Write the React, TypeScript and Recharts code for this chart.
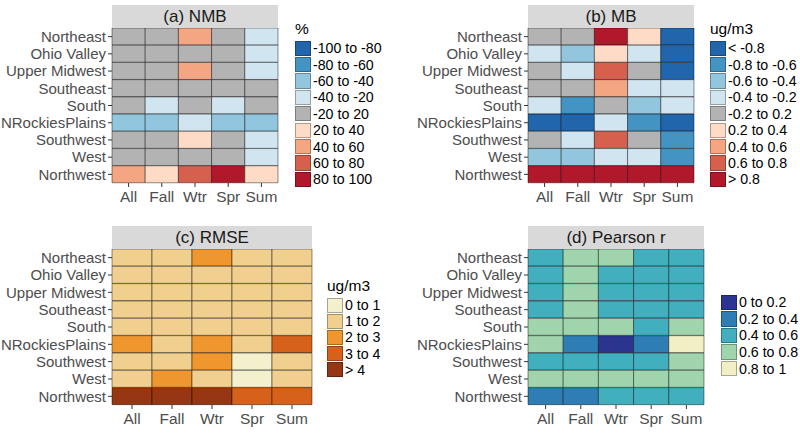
import { BarChart, Bar, Cell, XAxis, YAxis } from "recharts";

const regions = [
  "Northeast",
  "Ohio Valley",
  "Upper Midwest",
  "Southeast",
  "South",
  "NRockiesPlains",
  "Southwest",
  "West",
  "Northwest",
];

const seasons = ["All", "Fall", "Wtr", "Spr", "Sum"];

// bin index per region (rows) and season (cols)
const nmbBins = [
  [4, 4, 6, 4, 3],
  [4, 4, 4, 4, 3],
  [4, 4, 6, 4, 3],
  [4, 4, 4, 4, 4],
  [4, 3, 4, 3, 4],
  [2, 2, 3, 2, 2],
  [4, 4, 5, 4, 3],
  [4, 4, 4, 4, 3],
  [6, 5, 7, 8, 5],
];
const nmbLabels = [
  "-100 to -80",
  "-80 to -60",
  "-60 to -40",
  "-40 to -20",
  "-20 to 20",
  "20 to 40",
  "40 to 60",
  "60 to 80",
  "80 to 100",
];

const mbBins = [
  [4, 4, 8, 5, 0],
  [3, 2, 5, 3, 0],
  [4, 3, 7, 4, 0],
  [4, 4, 6, 3, 3],
  [3, 1, 4, 2, 3],
  [0, 0, 3, 1, 0],
  [4, 3, 7, 4, 1],
  [2, 2, 3, 3, 1],
  [8, 8, 8, 8, 8],
];
const mbLabels = [
  "< -0.8",
  "-0.8 to -0.6",
  "-0.6 to -0.4",
  "-0.4 to -0.2",
  "-0.2 to 0.2",
  "0.2 to 0.4",
  "0.4 to 0.6",
  "0.6 to 0.8",
  "> 0.8",
];

const rmseBins = [
  [1, 1, 2, 1, 1],
  [1, 1, 1, 1, 1],
  [1, 1, 1, 1, 1],
  [1, 1, 1, 1, 1],
  [1, 1, 1, 1, 1],
  [2, 1, 2, 1, 3],
  [1, 1, 2, 0, 1],
  [1, 2, 1, 0, 1],
  [4, 4, 4, 3, 3],
];
const rmseLabels = ["0 to 1", "1 to 2", "2 to 3", "3 to 4", "> 4"];

const rBins = [
  [2, 3, 3, 2, 2],
  [2, 3, 2, 2, 2],
  [2, 3, 2, 2, 2],
  [2, 3, 2, 2, 2],
  [3, 3, 3, 2, 3],
  [3, 1, 0, 1, 4],
  [2, 2, 2, 2, 3],
  [3, 3, 3, 3, 3],
  [1, 1, 2, 2, 2],
];
const rLabels = ["0 to 0.2", "0.2 to 0.4", "0.4 to 0.6", "0.6 to 0.8", "0.8 to 1"];

const RDBU = [
  "#2166ac",
  "#4393c3",
  "#92c5de",
  "#d1e5f0",
  "#b3b3b3",
  "#fddbc7",
  "#f4a582",
  "#d6604d",
  "#b2182b",
];
const YLORBR = ["#f2f0cd", "#f1d08f", "#ef962f", "#d6611a", "#973612"];
const YLGNBU = ["#2b3590", "#2f7db5", "#41afbe", "#9fd4ad", "#f2efc4"];

const FONT = '"Liberation Sans", Arial, Helvetica, sans-serif';

function Panel({
  left,
  top,
  axisW,
  plotW,
  plotH,
  title,
  bins,
  colors,
}: {
  left: number;
  top: number;
  axisW: number;
  plotW: number;
  plotH: number;
  title: string;
  bins: number[][];
  colors: string[];
}) {
  const rows = regions.map((r) => {
    const o: Record<string, string | number> = { region: r };
    seasons.forEach((s) => (o[s] = 1));
    return o;
  });
  return (
    <>
      <div
        style={{
          position: "absolute",
          left: left + axisW,
          top: top - 23,
          width: plotW,
          height: 23,
          background: "#d9d9d9",
          color: "#1a1a1a",
          fontSize: 17,
          lineHeight: "23px",
          textAlign: "center",
        }}
      >
        {title}
      </div>
      <div style={{ position: "absolute", left, top }}>
        <BarChart
          width={axisW + plotW + 1}
          height={plotH + 28}
          data={rows}
          layout="vertical"
          barCategoryGap={0}
          barGap={0}
          margin={{ top: 0, right: 1, left: 0, bottom: 0 }}
        >
          <XAxis
            type="number"
            domain={[0, 5]}
            ticks={[0.5, 1.5, 2.5, 3.5, 4.5]}
            tickFormatter={(v: number) => seasons[Math.floor(v)]}
            axisLine={false}
            tickSize={4}
            tickMargin={4}
            height={28}
            tickLine={{ stroke: "#333" }}
            tick={{ fill: "#4d4d4d", fontSize: 15.5, fontFamily: FONT }}
            interval={0}
          />
          <YAxis
            type="category"
            dataKey="region"
            width={axisW}
            axisLine={false}
            tickSize={4}
            tickMargin={2}
            tickLine={{ stroke: "#333" }}
            tick={{ fill: "#4d4d4d", fontSize: 15, fontFamily: FONT }}
            interval={0}
          />
          {seasons.map((s, j) => (
            <Bar
              key={s}
              dataKey={s}
              stackId="t"
              isAnimationActive={false}
              stroke="rgba(0,0,0,0.55)"
              strokeWidth={0.8}
            >
              {regions.map((r, i) => (
                <Cell key={r} fill={colors[bins[i][j]]} />
              ))}
            </Bar>
          ))}
        </BarChart>
      </div>
    </>
  );
}

function LegendBox({
  left,
  top,
  keyH,
  title,
  colors,
  labels,
}: {
  left: number;
  top: number;
  keyH: number;
  title?: string;
  colors: string[];
  labels: string[];
}) {
  return (
    <div style={{ position: "absolute", left, top }}>
      {title && (
        <div
          style={{
            position: "absolute",
            left: 0,
            top: -20,
            fontSize: 15.5,
            color: "#000",
            whiteSpace: "nowrap",
          }}
        >
          {title}
        </div>
      )}
      {labels.map((l, i) => (
        <div
          key={l}
          style={{ position: "absolute", left: 0, top: i * keyH, height: keyH, display: "flex", alignItems: "center" }}
        >
          <div
            style={{
              width: 16,
              height: keyH - 1,
              background: colors[i],
              border: "1px solid rgba(0,0,0,0.3)",
              boxSizing: "border-box",
            }}
          />
          <span style={{ marginLeft: 2, fontSize: 14.2, color: "#000", whiteSpace: "nowrap" }}>{l}</span>
        </div>
      ))}
    </div>
  );
}

export default function App() {
  return (
    <div
      style={{
        position: "fixed",
        left: 0,
        top: 0,
        width: 800,
        height: 433,
        background: "#fff",
        fontFamily: FONT,
        overflow: "hidden",
      }}
    >
      <Panel left={0} top={28} axisW={112} plotW={166} plotH={155} title="(a) NMB" bins={nmbBins} colors={RDBU} />
      <Panel left={400} top={28} axisW={128} plotW={166} plotH={155} title="(b) MB" bins={mbBins} colors={RDBU} />
      <Panel left={0} top={249} axisW={112} plotW={200} plotH={156} title="(c) RMSE" bins={rmseBins} colors={YLORBR} />
      <Panel left={400} top={249} axisW={128} plotW={176} plotH={156} title="(d) Pearson r" bins={rBins} colors={YLGNBU} />
      <LegendBox left={295} top={40} keyH={16.4} title="%" colors={RDBU} labels={nmbLabels} />
      <LegendBox left={710} top={40} keyH={16.4} title="ug/m3" colors={RDBU} labels={mbLabels} />
      <LegendBox left={327} top={297} keyH={16.2} title="ug/m3" colors={YLORBR} labels={rmseLabels} />
      <LegendBox left={721} top={294} keyH={16.6} colors={YLGNBU} labels={rLabels} />
    </div>
  );
}
